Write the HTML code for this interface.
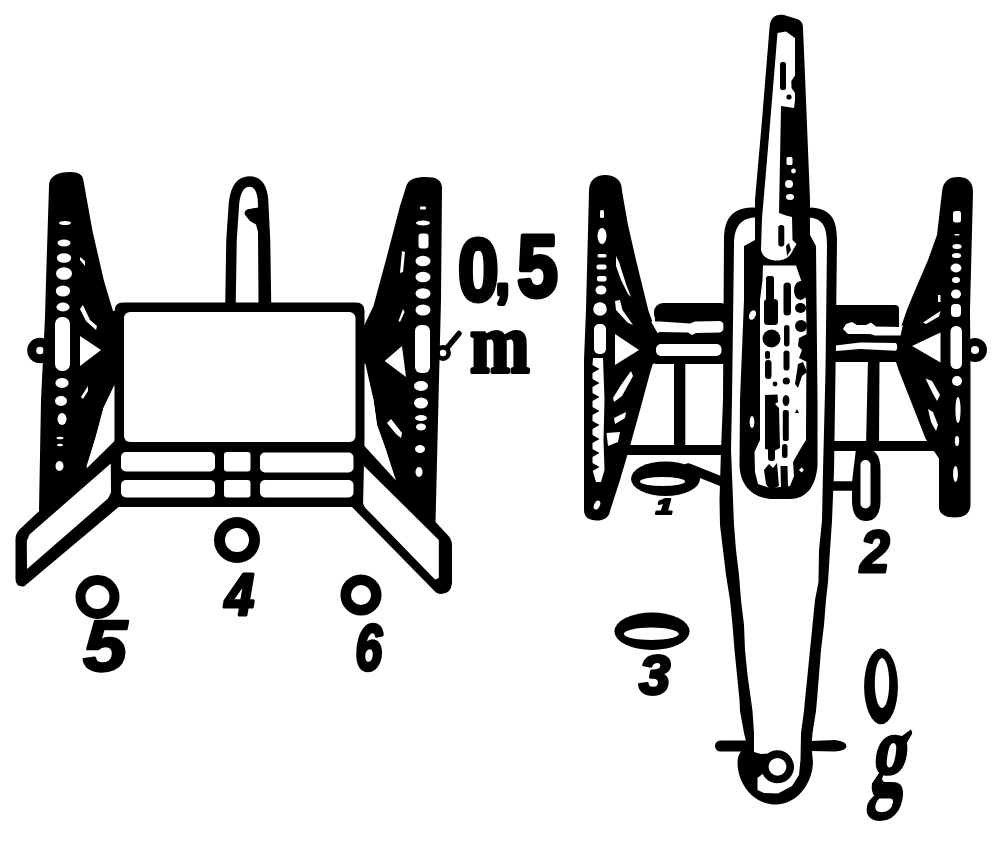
<!DOCTYPE html>
<html lang="en">
<head>
<meta charset="utf-8">
<title>Gun carriage diagram</title>
<style>
  html, body { margin: 0; padding: 0; background: #fff; }
  body { width: 1004px; height: 844px; overflow: hidden; }
  svg { display: block; }
  .k { fill: #000; }
  .w { fill: #fff; }
  .s { fill: none; stroke: #000; stroke-linecap: round; stroke-linejoin: round; }
  .ws { fill: none; stroke: #fff; stroke-linecap: round; stroke-linejoin: round; }
  text { fill: #000; stroke: #000; stroke-linejoin: round; }
  .sans { font-family: "Liberation Sans", sans-serif; font-weight: bold; }
  .serif { font-family: "Liberation Serif", serif; font-weight: bold; }
</style>
</head>
<body>
<svg width="1004" height="844" viewBox="0 0 1004 844" shape-rendering="geometricPrecision">
<rect class="w" x="0" y="0" width="1004" height="844"/>

<!-- ================= LEFT GUN ================= -->
<g id="left-gun">

  <!-- left wheel -->
  <g id="lg-wheel-l">
    <circle class="s" cx="40" cy="350.5" r="8.3" stroke-width="9"/>
    <path class="k" d="M49,186 C49,176 58,172 70,172 C79,172 83,175 83.5,181 L92.5,231 L104,281 L113,311 L116,311 L116,383 L113.5,387 L103.5,408 L96,436 L86,468 L40,512 L39,510 L41,400 L45,317 L46,281 Z"/>
    <!-- rim holes -->
    <ellipse class="w" cx="65" cy="223" rx="6" ry="2"/>
    <ellipse class="w" cx="64" cy="243" rx="6.5" ry="3.4"/>
    <ellipse class="w" cx="64" cy="258" rx="7.2" ry="4.8"/>
    <ellipse class="w" cx="64" cy="273.5" rx="8" ry="6.3"/>
    <ellipse class="w" cx="63" cy="291" rx="7.2" ry="5.6"/>
    <ellipse class="w" cx="63" cy="307" rx="6.6" ry="4.4"/>
    <rect class="w" x="55" y="317" width="15" height="54" rx="7"/>
    <ellipse class="w" cx="62" cy="383" rx="6.6" ry="5"/>
    <ellipse class="w" cx="61" cy="401" rx="6" ry="5"/>
    <ellipse class="w" cx="62" cy="419" rx="4.5" ry="6"/>
    <ellipse class="w" cx="60" cy="438" rx="3.5" ry="1.3"/>
    <ellipse class="w" cx="60" cy="445" rx="3" ry="1.2"/>
    <ellipse class="w" cx="59.5" cy="466" rx="4" ry="5"/>
    <!-- spoke gaps -->
    <path class="w" d="M80,336 L101,350 L80,366 Z"/>
    <path class="w" d="M80,257 L85,261 L85,266 L80,260 Z"/>
    <path class="w" d="M80,309 L83,305 L90,320 L97,326 L96,330 L86,321 Z"/>
    <path class="w" d="M81,397 L88,386 L88,391 L83,399 Z"/>
  </g>

  <!-- right wheel -->
  <g id="lg-wheel-r">
    <circle class="s" cx="443" cy="353" r="5.6" stroke-width="4.6"/>
    <path class="s" d="M447,348 L459,333.5" stroke-width="5.5"/>
    <path class="k" d="M406,187 C408,179 416,177 426,177 C436,177 442,180 442,188 L441,300 L438.5,400 L435.5,523 L396,485 L386,450 L377,425 L373.5,400 L365.5,364 L362,362 L362,330 L373.5,306 L387,256 L400,206 Z"/>
    <!-- rim holes -->
    <rect class="w" x="420" y="206.5" width="6" height="3" rx="1"/>
    <ellipse class="w" cx="423" cy="223" rx="7" ry="2.6"/>
    <rect class="w" x="418.5" y="233.5" width="10" height="15" rx="3"/>
    <ellipse class="w" cx="423" cy="261" rx="7.5" ry="5.2"/>
    <ellipse class="w" cx="423" cy="277" rx="7.5" ry="5.2"/>
    <ellipse class="w" cx="423" cy="293.5" rx="7.5" ry="5.2"/>
    <ellipse class="w" cx="423" cy="310" rx="7.5" ry="5.5"/>
    <rect class="w" x="415" y="325" width="15" height="48" rx="6"/>
    <ellipse class="w" cx="421" cy="386" rx="7" ry="5"/>
    <ellipse class="w" cx="421" cy="403" rx="7" ry="5.5"/>
    <ellipse class="w" cx="421" cy="418" rx="6" ry="3"/>
    <ellipse class="w" cx="421" cy="427" rx="5" ry="3.4"/>
    <ellipse class="w" cx="420" cy="449" rx="5" ry="4"/>
    <ellipse class="w" cx="419" cy="472" rx="3.5" ry="5"/>
    <!-- spoke gaps -->
    <path class="w" d="M384.7,361 L402,346 L406,377 Z"/>
    <path class="w" d="M402,251 L405,252 L403,272 L400,273 Z"/>
    <path class="w" d="M398.5,321 L403,309 L404.5,312 L400,322 Z"/>
    <path class="w" d="M387,423 L391,419 L402,433 L401,438 L396,434 Z"/>
  </g>

  <!-- trail legs -->
  <path class="k" d="M115,440 L20,529 Q15.5,533 15.5,540 L15.5,579 Q15.5,587 24,586.5 L118,507.5 Z"/>
  <path class="w" d="M110.8,463.5 L29.5,534.5 L26.8,541 L27,569 L108,498.5 L111,492.5 Z"/>
  <path class="k" d="M363,444 L449,536.5 Q452,540 452,546 L452,583 Q451,594 441,594 Q437,594 434,590.5 L351,506 Z"/>
  <path class="w" d="M362.2,464.3 L438.8,540 L438.8,578 L435,579.5 L365,507.5 L361.2,500 Z"/>
  <!-- white slivers between wheels and box -->
  <path class="w" d="M103.5,408 L113.5,387 L114.5,386 L114.5,441 L86.5,468.5 L96,436 Z"/>
  <path class="w" d="M364.5,366 L373.5,400 L377,425 L386,450 L396,480.5 L364.5,446 Z"/>

  <!-- box + slotted frame -->
  <path class="k" d="M123,302.5 L356,302.5 Q364.5,302.5 364.5,311 L364.5,440 L363,507 L111.5,507 L111.5,460 L114.5,440 L114.5,311 Q114.5,302.5 123,302.5 Z"/>
  <rect class="w" x="124" y="312" width="231.5" height="130" rx="6"/>
  <rect class="w" x="121" y="452" width="94" height="19.5" rx="5"/>
  <rect class="w" x="121" y="480" width="94" height="17.5" rx="5"/>
  <rect class="w" x="224" y="452" width="26.5" height="19.5" rx="3"/>
  <rect class="w" x="224" y="480" width="26.5" height="17.5" rx="3"/>
  <rect class="w" x="260" y="452.5" width="93.5" height="20" rx="5"/>
  <rect class="w" x="260" y="480" width="93.5" height="17.5" rx="5"/>

  <!-- short tube on top of the box -->
  <path class="s" d="M230.5,304 L231.5,240 L234,203 Q236.5,181.5 249.5,181.5 Q261.5,181.5 263,200 L265,240 L266,304" stroke-width="10.5"/>
  <path class="k" d="M258,207.5 L247,209.5 Q243,212 245.5,215.5 L250,221 L256,224.5 L258,232 L258.5,304 L263,304 L262,207 Z"/>

  <!-- position circles -->
  <circle class="s" cx="97.5" cy="597" r="17" stroke-width="10"/>
  <circle class="s" cx="237" cy="540" r="17.5" stroke-width="11"/>
  <circle class="s" cx="361" cy="595" r="15.3" stroke-width="10.5"/>
</g>

<!-- ================= RIGHT GUN ================= -->
<g id="right-gun">

  <!-- left wheel -->
  <g id="rg-wheel-l">
    <path class="k" d="M589,191 C589,180 596,175 605,175 C615,175 622,180 622,191 L628,225 L636,260 L648.5,311 L652.5,322 L657,333 L657,362 L652.5,364.5 L650,373 L640,410 L630,446 L620,480 L610,511 C609,518 603,520.5 597,520.5 C589,520.5 584,517 584,510 L584,360 L586,310 Z"/>
    <rect class="w" x="600" y="210" width="4" height="8" rx="1.5"/>
    <ellipse class="w" cx="602" cy="236" rx="4.5" ry="8"/>
    <rect class="w" x="597.5" y="254" width="9" height="3.4" rx="1.5"/>
    <rect class="w" x="596.5" y="264.5" width="10" height="5" rx="2"/>
    <rect class="w" x="597" y="276" width="9.5" height="5.5" rx="2"/>
    <ellipse class="w" cx="601" cy="290" rx="5.5" ry="4.5"/>
    <circle class="w" cx="600" cy="309" r="6.8"/>
    <rect class="w" x="594" y="324" width="12" height="30" rx="5"/>
    <path class="w" d="M593,358 L603,358 L604.5,400 L603.5,440 L604.5,470 L601,482 L596,482 L592.5,470 L592.5,365 Z"/>
    <path class="k" d="M591.5,364.5 L599.5,369.0 L591.5,373.5 Z"/>
    <path class="k" d="M591.5,378.5 L599.5,383.0 L591.5,387.5 Z"/>
    <path class="k" d="M591.5,392.5 L599.5,397.0 L591.5,401.5 Z"/>
    <path class="k" d="M591.5,406.5 L599.5,411.0 L591.5,415.5 Z"/>
    <path class="k" d="M591.5,420.5 L599.5,425.0 L591.5,429.5 Z"/>
    <path class="k" d="M591.5,434.5 L599.5,439.0 L591.5,443.5 Z"/>
    <path class="k" d="M591.5,448.5 L599.5,453.0 L591.5,457.5 Z"/>
    <path class="k" d="M591.5,462.5 L599.5,467.0 L591.5,471.5 Z"/>
    <ellipse class="w" cx="597" cy="505" rx="2.8" ry="4.8" transform="rotate(25 597 505)"/>
    <path class="w" d="M616,256 L619,262 L626,284 L631,297 L628,294 L621,280 L616,266 Z"/>
    <path class="w" d="M615,301 L620,300 L622.5,310 L633,325 L627.5,322.5 L616,310 Z"/>
    <path class="w" d="M615,334 L639,350 L615,365 Z"/>
    <path class="w" d="M631,371 L633,376 L622,396 L614,402 L613,398 L621,385 Z"/>
    <path class="w" d="M614,418 L626,412 L625,418 L615,424 Z"/>
    <path class="w" d="M606.5,433 L620,432 L618,442 L608,446 Z"/>
  </g>

  <!-- right wheel -->
  <g id="rg-wheel-r">
    <circle class="s" cx="975" cy="350" r="8" stroke-width="8"/>
    <path class="k" d="M942,192 C943,181 949,177 958,177 C967,177 973,181 973,192 L970,310 L970.5,371 L970.5,505 C970,514 964,517.5 955,517.5 C945,517.5 939,514 939,507 L939,458.5 L925.5,438.5 L912,404 L899,371 L896,362 L897,337 L900,330 L906.5,311 L913,295 L928,260 L937,235 Z"/>
    <rect class="w" x="953" y="211" width="8" height="11.5" rx="2.5"/>
    <rect class="w" x="954.5" y="234" width="5" height="1.6" rx="0.8"/>
    <ellipse class="w" cx="957" cy="246.5" rx="4.6" ry="2.5"/>
    <ellipse class="w" cx="956.5" cy="255.5" rx="4.6" ry="2.6"/>
    <ellipse class="w" cx="956" cy="268" rx="5.5" ry="4.4"/>
    <ellipse class="w" cx="956" cy="280" rx="4" ry="3"/>
    <ellipse class="w" cx="956" cy="294" rx="5" ry="4.5"/>
    <rect class="w" x="951" y="304" width="10" height="13" rx="4"/>
    <rect class="w" x="950.5" y="326" width="11.5" height="43" rx="5.5"/>
    <circle class="w" cx="957" cy="381" r="5"/>
    <ellipse class="w" cx="958" cy="410" rx="2.6" ry="13"/>
    <ellipse class="w" cx="957" cy="441" rx="2.2" ry="5"/>
    <ellipse class="w" cx="955.5" cy="474" rx="2.4" ry="8"/>
    <path class="w" d="M923,322.5 L940.5,311 L939,316.5 L926,324 Z"/>
    <path class="w" d="M938,295 L940.5,295 L940.5,302 L938,302 Z"/>
    <path class="w" d="M912,346 L940.5,332.5 L940.5,362.5 Z"/>
    <path class="w" d="M925.5,378.5 L932,381 L940,395 L937,401 L932,392 Z"/>
    <path class="w" d="M928,409 L933,412 L938,425 L936,431 L931,422 Z"/>
  </g>

  <!-- axle + cross bars, left side -->
  <rect class="k" x="654" y="303" width="76" height="20" rx="9"/>
  <rect class="k" x="655" y="318" width="75" height="46"/>
  <path class="w" d="M651,321.5 L660,321.5 L690,323.5 L695,321.5 L720,321 Q724,322 724,326.5 Q724,331 720,332.5 L696,333 L692,335 L688,332.5 L660,332 L657.5,333 Z"/>
  <rect class="w" x="656" y="344" width="65.5" height="12" rx="5"/>
  <rect class="k" x="674" y="360" width="11.3" height="90"/>
  <rect class="k" x="624" y="445" width="100" height="10"/>

  <!-- axle + cross bars, right side -->
  <rect class="k" x="830" y="305" width="69" height="22" rx="4"/>
  <rect class="k" x="830" y="316" width="69" height="46"/>
  <path class="w" d="M843,329 L846,324 L852,322 L857,325 L866,325 L871,322.5 L876,326.5 L899.5,327 L903,325 L900.5,335.5 L875,335.5 L870,334 L848,334 Z"/>
  <path class="w" d="M835.5,345.5 L860,342.5 L896,343 Q898.5,347 896,350.8 L860,349 L836,351 Z"/>
  <path class="k" d="M868,358 L879.5,358 L879,446 L866,446 Z"/>
  <rect class="k" x="824" y="441" width="116" height="10"/>

  <!-- trail (long body) -->
  <path class="k" d="M724,240 C724,215 735,207.5 755,207.5 L806,207.5 C828,207.5 837,215 837,240 L835.5,371 L834,471 L832,521 L830,550 L828,582 L826,600 L824,625 L821,650 L819,675 L817,700 L816,711 L812.5,733 L811.5,745 L813,763 C812,785 796,804.5 776,804.5 C754,804.5 738,785 737.5,763 C737.5,755 741,750 747,745 L744,733 L740,711 L739.5,700 L737,675 L734.5,650 L732.5,625 L730,600 L726,575 L723,550 L720,525 L719.5,500 L721,450 L723,400 Z"/>
  <path class="w" d="M734,245 C734,225 742,217.5 757,217.5 L806,217.5 C822,217.5 827,225 827,245 L825.5,371 L823,471 L822,521 L819,550 L818.5,582 L815,600 L812.5,625 L810,650 L807.5,675 L805,700 L804,711 L801,733 L800.5,760 L799,775 L792,786 L778,793.5 L764,793 L757.5,790 L757.5,778 L765,772 L763,760 L769,753.5 L761,754 L754,752 L754,733 L752.5,711 L751,700 L747.5,675 L745,650 L744,625 L741,600 L739,575 L736,550 L734,525 L733,500 L731,450 L732,400 Z"/>
  <circle class="s" cx="777.5" cy="766.8" r="12.7" stroke-width="7.6"/>
  <path class="s" d="M720.5,746 L746,746" stroke-width="11"/>
  <path class="k" d="M811,741 L835,740 Q846.5,741.5 846.5,746 Q846.5,750.5 835,751.5 L811,751 Z"/>

  <!-- barrel + cradle -->
  <path class="k" d="M769.5,28 C770,17 776,13.5 784,15 L797,19 C802,21 803,24 803,28 L806,100 L810,200 L810,235 L816,246 L817.5,400 L817.5,465 C816,488 805,499 790,499 L770,499 C752,497 740,485 739.5,465 L740,400 L744,300 L744,246 L755,240 L755,200 L762,120 Z"/>
  <path class="w" d="M777.5,33 L786,31.5 L795,38 L795,100 L794,108 L781,106 L780,160 L779,213 L786,215.5 L792,217 L792.5,240 L796.5,244 L793,250 C790,257 785,260.5 777,260.5 C768,260.5 762,256 761,250 L762,218 L764,195 L767,160 L772,100 Z"/>
  <rect class="k" x="780" y="62" width="6" height="28" rx="2.5"/>
  <circle class="k" cx="789" cy="97" r="2.6"/>
  <path class="k" d="M796,74 L791.3,81 L791.5,88 L795,93 L796.5,100 L794.5,109 L798,110 L798,74 Z"/>
  <rect class="k" x="778.3" y="225" width="6" height="21.5" rx="2.8"/>
  <path class="k" d="M786,246 L789,243 L791,250 L787,256 Z"/>
  <rect class="w" x="786.5" y="157" width="6" height="8" rx="1.5"/>
  <circle class="w" cx="793.5" cy="171" r="2.4"/>
  <circle class="w" cx="789" cy="184" r="4"/>
  <ellipse class="w" cx="790" cy="197" rx="4" ry="3"/>
  <!-- mottled breech area -->
  <path class="w" d="M763,265.5 L796,265.5 L801,280 L806,300 L806.5,330 L806,440 L801,448 L793,462 L794,476 L790,486 L770,488 L758,484 L755,472 L754.5,452 L760,440 L760,300 L762.5,280 Z"/>
  <g id="mottle" class="k">
    <rect x="766" y="276" width="8" height="27" rx="2.5"/>
    <rect x="764" y="299" width="14" height="26" rx="3.5"/>
    <rect x="783.5" y="282.5" width="7.5" height="33" rx="3.5"/>
    <ellipse cx="771.5" cy="338.5" rx="9" ry="9"/>
    <rect x="765" y="351" width="5" height="8" rx="2"/>
    <rect x="765" y="360" width="6.5" height="19" rx="3"/>
    <circle cx="775" cy="384" r="2.4"/>
    <path d="M765,395 L777.5,394.5 L778,402 L775,404 L779,408 L780,448 L774,451 L765,449 Z"/>
    <rect x="768" y="447" width="7" height="14" rx="3"/>
    <rect x="784" y="325" width="5.5" height="21.5" rx="2.7"/>
    <rect x="783.5" y="350.5" width="6" height="20" rx="2.8"/>
    <circle cx="786.3" cy="381" r="3.6"/>
    <ellipse cx="786" cy="400.5" rx="3.4" ry="5.6"/>
    <rect x="782.8" y="410" width="6" height="31" rx="2"/>
    <rect x="782" y="444" width="5.5" height="14" rx="2.5"/>
    <path d="M797,409 L799,413 L795,413 Z"/>
    <!-- blobs hanging off the right wall -->
    <ellipse cx="800.5" cy="290.5" rx="6.5" ry="9.5"/>
    <ellipse cx="800.5" cy="308" rx="5.5" ry="5"/>
    <ellipse cx="801" cy="326" rx="6" ry="6"/>
    <path d="M807,334 L799,338 L798,346 L802,350 L799,358 L807,362 Z"/>
    <path d="M803,362 L798,364 L795,384 L798,388 L802,376 L807,372 Z"/>
    <!-- bottom streaks -->
    <path d="M764,470 L769,464 L773,468 L777,463 L779,486 L770,490 L766,484 Z"/>
    <path d="M780.5,466 L787.5,466 L788,489 L781,489 Z"/>
  </g>
  <path class="w" d="M803,314.5 L805.5,317 L803,320 L800.5,317 Z"/>
  <path class="w" d="M801.5,467.5 L804,470 L801.5,472.5 L799,470 Z"/>
  <ellipse class="w" cx="752.5" cy="315" rx="3.2" ry="5" transform="rotate(25 752.5 315)"/>
  <ellipse class="w" cx="752" cy="422" rx="2.4" ry="6"/>

  <!-- position markers 1, 2, 3 and g -->
  <ellipse class="k" cx="665.5" cy="478.8" rx="34.5" ry="17.3"/>
  <ellipse class="w" cx="662.5" cy="481.5" rx="22.5" ry="4.6"/>
  <path class="s" d="M688,468 L723,482" stroke-width="9.5"/>
  <path class="k" d="M852,482 L856,449 L866,449 C875,449 880.5,455 880.5,470 L880.5,500 C880.5,514 875,521 866,521 C857,521 852,514 852,500 Z"/>
  <rect class="w" x="860.5" y="460" width="10" height="48.5" rx="5"/>
  <path class="s" d="M832,486 L854,486" stroke-width="9.5"/>
  <ellipse class="k" cx="652" cy="631.3" rx="37.6" ry="18.7"/>
  <ellipse class="w" cx="651.3" cy="633.8" rx="27.5" ry="6.2"/>
  <ellipse class="k" cx="881" cy="686.4" rx="16.9" ry="37.9"/>
  <ellipse class="w" cx="882" cy="683" rx="7.2" ry="25"/>
</g>


<!-- ================= LABELS ================= -->
<g id="labels" opacity="0.999">
<text class="sans" font-size="200" stroke-width="11" transform="matrix(0.365 0 0 0.440 0 0)"><tspan x="1254.8" y="682.6">0</tspan><tspan x="1357.4" y="668.2" font-size="140">,</tspan><tspan x="1417.3" y="672.5">5</tspan></text>
<text class="serif" font-size="200" stroke-width="9.0" transform="matrix(0.3576 0 0 0.4202 469.96 371.75)">m</text>
<text class="sans" font-size="200" font-style="italic" stroke-width="6.6" transform="matrix(0.3964 0 0 0.3643 82.96 670.52)">5</text>
<text class="sans" font-size="200" font-style="italic" stroke-width="10.7" transform="matrix(0.2658 0 0 0.2971 224.80 615.50)">4</text>
<text class="sans" font-size="200" font-style="italic" stroke-width="10.5" transform="matrix(0.2427 0 0 0.3275 355.32 670.35)">6</text>
<text class="sans" font-size="200" font-style="italic" stroke-width="18.7" transform="matrix(0.1546 0 0 0.1123 655.79 513.75)">1</text>
<text class="sans" font-size="200" font-style="italic" stroke-width="10.6" transform="matrix(0.2634 0 0 0.3000 860.29 572.00)">2</text>
<text class="sans" font-size="200" font-style="italic" stroke-width="10.8" transform="matrix(0.2804 0 0 0.2746 638.94 693.95)">3</text>
<text class="serif" font-size="200" stroke-width="4.0" transform="matrix(0.355 0 -0.10 0.6062 868 792.83)">g</text>
</g>

</svg>
</body>
</html>
